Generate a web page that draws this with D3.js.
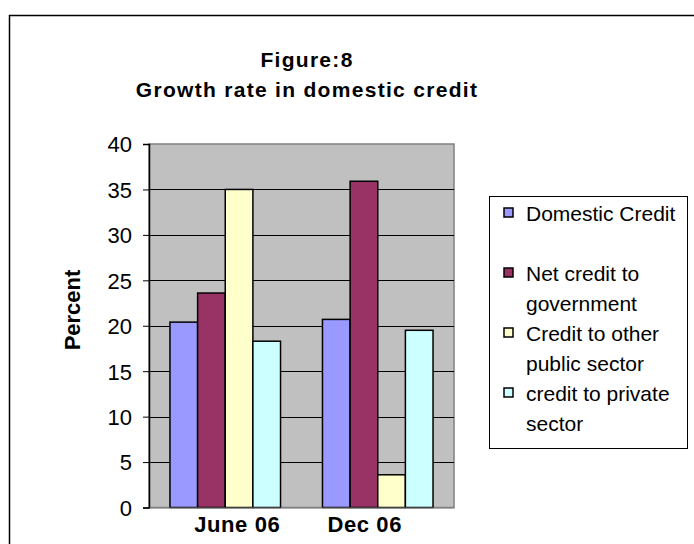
<!DOCTYPE html>
<html>
<head>
<meta charset="utf-8">
<script src="https://cdn.jsdelivr.net/npm/d3@7"></script>
<style>
  body { margin: 0; background: #fff; }
  text { font-family: "Liberation Sans", Arial, sans-serif; fill: #000; }
</style>
</head>
<body>
<div id="chart"></div>
<script>
// Figure 8 - growth rate in domestic credit (clustered bars)
const categories = ["June 06", "Dec 06"];
const seriesNames = ["Domestic Credit", "Net credit to government", "Credit to other public sector", "credit to private sector"];
const domesticCredit = [20.4, 20.7];
const netCreditGov = [23.6, 35.9];
const creditOtherPublic = [35.0, 3.6];
const creditPrivate = [18.3, 19.5];
const yTicks = [0, 5, 10, 15, 20, 25, 30, 35, 40];
const colors = ["#9999ff", "#993366", "#ffffcc", "#ccffff"];

const seriesValues = [domesticCredit, netCreditGov, creditOtherPublic, creditPrivate];
const data = categories.map((c, i) => ({
  category: c,
  values: seriesNames.map((s, j) => ({ series: s, value: seriesValues[j][i] }))
}));

const W = 694, H = 544;
const plot = { left: 149, top: 144, right: 454, bottom: 507.5 };

const svg = d3.select("#chart")
  .append("svg")
  .attr("width", W)
  .attr("height", H);

// outer chart border
svg.append("rect")
  .attr("x", 9.5).attr("y", 15.5)
  .attr("width", W).attr("height", H)
  .attr("fill", "#fff")
  .attr("stroke", "#000")
  .attr("stroke-width", 1.5);

const y = d3.scaleLinear().domain([0, 40]).range([plot.bottom, plot.top]);
const x0 = d3.scaleBand().domain(categories)
  .range([plot.left, plot.right])
  .paddingInner(0.275).paddingOuter(0.1375);
const x1 = d3.scaleBand().domain(seriesNames).range([0, x0.bandwidth()]);

// plot area
svg.append("rect")
  .attr("x", plot.left).attr("y", plot.top)
  .attr("width", plot.right - plot.left).attr("height", plot.bottom - plot.top)
  .attr("fill", "#c0c0c0")
  .attr("stroke", "#808080")
  .attr("stroke-width", 1.5);

// gridlines
svg.append("g")
  .selectAll("line")
  .data(yTicks.filter(t => t > 0 && t < 40))
  .join("line")
  .attr("x1", plot.left).attr("x2", plot.right)
  .attr("y1", d => Math.round(y(d)) + 0.5).attr("y2", d => Math.round(y(d)) + 0.5)
  .attr("stroke", "#000");

// bars
svg.append("g")
  .selectAll("g")
  .data(data)
  .join("g")
  .attr("transform", d => `translate(${x0(d.category)},0)`)
  .selectAll("rect")
  .data(d => d.values)
  .join("rect")
  .attr("x", d => x1(d.series))
  .attr("y", d => y(d.value))
  .attr("width", x1.bandwidth())
  .attr("height", d => y(0) - y(d.value))
  .attr("fill", (d, i) => colors[i])
  .attr("stroke", "#000")
  .attr("stroke-width", 1.5);

// y axis
const yAxis = svg.append("g")
  .attr("transform", `translate(${plot.left},0)`)
  .call(d3.axisLeft(y).tickValues(yTicks).tickSize(6).tickPadding(11));
yAxis.select(".domain").attr("stroke", "#000").attr("stroke-width", 1.5);
yAxis.selectAll(".tick line").attr("stroke", "#000");
yAxis.selectAll(".tick text")
  .style("font-size", "22px")
  .style("font-family", "'Liberation Sans', Arial, sans-serif")
  .attr("dy", "0.36em");

// x axis (labels only)
const xAxis = svg.append("g")
  .attr("transform", `translate(0,${plot.bottom})`)
  .call(d3.axisBottom(x0).tickSize(0).tickPadding(9));
xAxis.select(".domain").attr("stroke", "#808080");
xAxis.selectAll(".tick text")
  .style("font-size", "22px")
  .style("font-weight", "bold")
  .style("letter-spacing", "0.6px")
  .style("font-family", "'Liberation Sans', Arial, sans-serif")
  .attr("dx", (d, i) => i === 0 ? 12 : -13);

// titles
svg.append("text")
  .attr("x", 307).attr("y", 67)
  .attr("text-anchor", "middle")
  .style("font-size", "21px").style("font-weight", "bold")
  .style("letter-spacing", "1.3px")
  .text("Figure:8");
svg.append("text")
  .attr("x", 307).attr("y", 97)
  .attr("text-anchor", "middle")
  .style("font-size", "21px").style("font-weight", "bold")
  .style("letter-spacing", "1.3px")
  .text("Growth rate in domestic credit");

svg.append("text")
  .attr("transform", "translate(80,310) rotate(-90)")
  .attr("text-anchor", "middle")
  .style("font-size", "22px").style("font-weight", "bold")
  .text("Percent");

// legend
const legend = svg.append("g");
legend.append("rect")
  .attr("x", 489.5).attr("y", 196.5)
  .attr("width", 198).attr("height", 252)
  .attr("fill", "#fff")
  .attr("stroke", "#000");

const item = legend.selectAll("g.item")
  .data(seriesNames)
  .join("g")
  .attr("class", "item")
  .attr("transform", (d, i) => `translate(504,${221 + i * 60})`);

item.append("rect")
  .attr("x", 0).attr("y", -13)
  .attr("width", 9).attr("height", 9)
  .attr("fill", (d, i) => colors[i])
  .attr("stroke", "#000")
  .attr("stroke-width", 1.5);

item.append("text")
  .attr("x", 22)
  .style("font-size", "21px")
  .each(function (d) {
    const t = d3.select(this);
    const words = d.split(" ");
    let line = [];
    let tspan = t.append("tspan").attr("x", 22).attr("dy", 0);
    words.forEach(w => {
      line.push(w);
      tspan.text(line.join(" "));
      if (tspan.node().getComputedTextLength() > 162 && line.length > 1) {
        line.pop();
        tspan.text(line.join(" "));
        line = [w];
        tspan = t.append("tspan").attr("x", 22).attr("dy", 30).text(w);
      }
    });
  });
</script>
</body>
</html>
